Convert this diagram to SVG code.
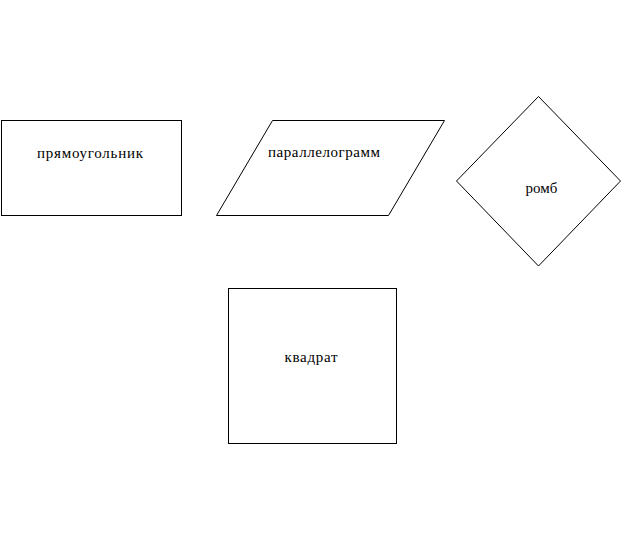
<svg xmlns="http://www.w3.org/2000/svg" width="625" height="541" viewBox="0 0 625 541">
<style>
.s{fill:#fff;stroke:#000;stroke-width:1}
text{font-family:"Liberation Serif","Times New Roman",serif;font-size:15px;fill:#000}
</style>
<rect width="625" height="541" fill="#fff"/>
<g id="rect">
<rect class="s" x="1.5" y="120.5" width="180" height="95"/>
<text x="37" y="157.5" textLength="106">прямоугольник</text>
</g>
<g id="parallelogram">
<polygon class="s" points="272.5,120.5 444.5,120.5 388.5,215.5 216.5,215.5"/>
<text x="268" y="157" textLength="112">параллелограмм</text>
</g>
<g id="rhombus">
<polygon class="s" points="538.5,96.5 620.5,181 538.5,266 456.5,181"/>
<text x="541.5" y="192.5" text-anchor="middle" font-size="14">ромб</text>
</g>
<g id="square">
<rect class="s" x="228.5" y="288.5" width="168" height="155"/>
<text x="284.5" y="362" textLength="53">квадрат</text>
</g>
<g id="connectors"></g>
</svg>
